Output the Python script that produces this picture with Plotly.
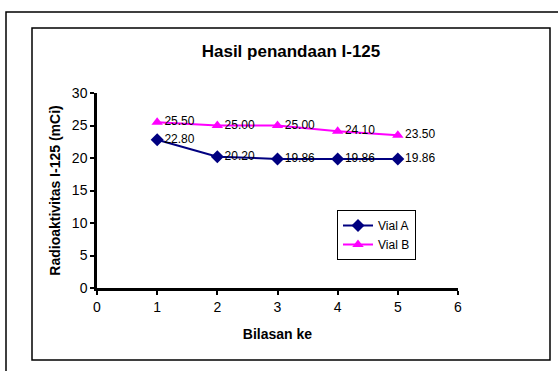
import plotly.graph_objects as go

bilasan = [1, 2, 3, 4, 5]
vial_a = [22.80, 20.20, 19.86, 19.86, 19.86]
vial_b = [25.50, 25.00, 25.00, 24.10, 23.50]

W, H = 558, 371
L, R, T, B = 97, 100, 93, 83
pw, ph = W - L - R, H - T - B

def px(x):
    return (x - L) / pw

def py(y):
    return (H - B - y) / ph

font = "Liberation Sans, Arial, sans-serif"

fig = go.Figure()
fig.add_trace(go.Scatter(
    x=bilasan, y=vial_a, name="Vial A", mode="lines+markers+text",
    line=dict(color="#000080", width=2),
    marker=dict(symbol="diamond", size=10, color="#000080"),
    text=[f"{v:.2f}" for v in vial_a], textposition="middle right",
    textfont=dict(family=font, size=12, color="black"),
))
fig.add_trace(go.Scatter(
    x=bilasan, y=vial_b, name="Vial B", mode="lines+markers+text",
    line=dict(color="#FF00FF", width=2),
    marker=dict(symbol="triangle-up", size=10, color="#FF00FF"),
    text=[f"{v:.2f}" for v in vial_b], textposition="middle right",
    textfont=dict(family=font, size=12, color="black"),
))

shapes = [
    dict(type="rect", xref="paper", yref="paper",
         x0=px(6), x1=px(W + 20), y0=py(H + 20), y1=py(12),
         line=dict(color="black", width=1.5), fillcolor="rgba(0,0,0,0)", layer="below"),
    dict(type="rect", xref="paper", yref="paper",
         x0=px(32), x1=px(550), y0=py(360), y1=py(28),
         line=dict(color="black", width=1.5), fillcolor="rgba(0,0,0,0)", layer="below"),
]

fig.update_layout(
    width=W, height=H,
    margin=dict(l=L, r=R, t=T, b=B),
    paper_bgcolor="white", plot_bgcolor="white",
    font=dict(family=font, size=12, color="black"),
    title=dict(text="<b>Hasil penandaan I-125</b>", x=291 / W, xanchor="center",
               y=1 - 51 / H, yanchor="middle", xref="container", yref="container",
               font=dict(family=font, size=17, color="black")),
    shapes=shapes,
    legend=dict(x=px(337), y=py(210), xanchor="left", yanchor="top",
                bordercolor="black", borderwidth=1, bgcolor="white",
                font=dict(family=font, size=12), itemwidth=30,
                tracegroupgap=0),
    showlegend=True,
)
fig.update_xaxes(range=[0, 6], tickvals=[0, 1, 2, 3, 4, 5, 6], showgrid=False, zeroline=False,
                 showline=True, linecolor="black", linewidth=2.5,
                 ticks="outside", ticklen=4, tickwidth=2, tickcolor="black",
                 tickfont=dict(family=font, size=14),
                 title=dict(text="<b>Bilasan ke</b>", standoff=16, font=dict(family=font, size=14)))
fig.update_yaxes(range=[0, 30], tickvals=[0, 5, 10, 15, 20, 25, 30], showgrid=False, zeroline=False,
                 showline=True, linecolor="black", linewidth=2.5,
                 ticks="outside", ticklen=4, tickwidth=2, tickcolor="black",
                 tickfont=dict(family=font, size=14),
                 title=dict(text="<b>Radioaktivitas I-125 (mCi)</b>", standoff=8, font=dict(family=font, size=14)))

fig.write_html("out.html", config={"displayModeBar": False},
               post_script="document.body.style.margin='0px';")
